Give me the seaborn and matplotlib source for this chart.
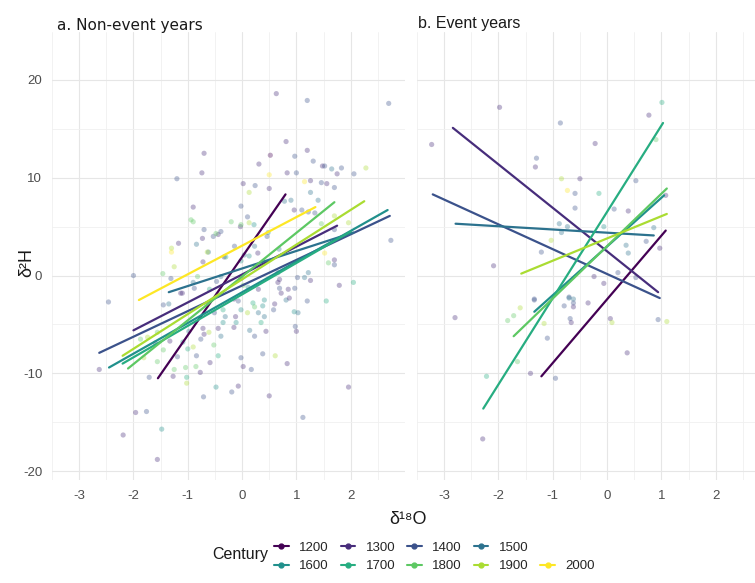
import matplotlib
matplotlib.use("Agg")
import matplotlib.pyplot as plt
from matplotlib.lines import Line2D
from matplotlib.ticker import MultipleLocator, FixedLocator
import numpy as np
import pandas as pd
import seaborn as sns

# ---------------------------------------------------------------- data
centuries = [1200, 1300, 1400, 1500, 1600, 1700, 1800, 1900, 2000]
century_colors = ["#440154", "#472D7B", "#3B528B", "#2C728E", "#21908C",
                  "#27AD81", "#5DC863", "#AADC32", "#FDE725"]

# non-event years: (d18O, d2H, century)
ne_points = [
    (0.63, 18.6, 1300), (1.2, 17.9, 1400), (2.7, 17.6, 1400), (0.81, 13.7, 1300),
    (0.52, 12.3, 1200), (-0.70, 12.5, 1300), (-0.74, 10.5, 1300), (-1.2, 9.9, 1400),
    (0.31, 11.4, 1300), (0.97, 12.2, 1400), (1.2, 12.8, 1300), (1.31, 11.7, 1400),
    (1.48, 11.2, 1300), (1.52, 11.2, 1400), (0.83, 10.5, 1300), (1.0, 10.5, 1400),
    (1.65, 10.9, 1500), (1.83, 11.0, 1400), (1.75, 10.4, 1300), (2.06, 10.4, 1400),
    (2.28, 11.0, 1900), (0.02, 9.4, 1300), (0.24, 9.2, 1400), (0.5, 8.9, 1300),
    (1.26, 9.7, 1300), (1.46, 9.5, 1400), (1.56, 9.4, 1300), (1.7, 9.0, 1400),
    (1.15, 9.6, 2000), (0.5, 10.3, 2000), (-0.9, 7.0, 1300), (-0.02, 7.1, 1400),
    (0.1, 6.0, 1400), (0.13, 8.5, 1900), (-0.03, 5.0, 1300), (-0.2, 5.5, 1800),
    (-0.44, 4.2, 1300), (-0.53, 4.0, 1400), (-0.73, 3.8, 1300), (-0.84, 3.2, 1500),
    (-1.17, 3.3, 1300), (-1.3, 2.8, 1900), (-1.3, 2.4, 2000), (-0.94, 5.7, 1800),
    (-0.9, 5.5, 1800), (-0.7, 4.7, 1400), (-0.62, 2.4, 1500), (-0.33, 1.9, 1300),
    (-1.25, 0.9, 1900), (-1.46, 0.2, 1800), (-2.0, 0.0, 1400), (-1.13, -1.8, 1300),
    (1.1, 6.7, 1400), (1.4, 7.7, 1500), (1.26, 8.5, 1500), (0.9, 7.7, 1500),
    (0.96, 6.7, 1300), (1.34, 6.4, 1400), (1.7, 6.1, 1900), (1.7, 4.7, 1400),
    (1.96, 5.4, 1900), (1.7, 1.6, 1300), (1.7, 1.1, 1400), (1.79, -1.0, 1300),
    (2.05, -0.7, 1700), (1.26, -0.5, 1300), (1.02, -0.2, 1400), (1.22, 0.3, 1500),
    (0.85, -1.4, 1300), (0.97, -1.3, 1400), (1.52, 2.3, 2000), (1.59, 1.3, 1800),
    (0.66, 0.3, 1400), (0.69, -0.4, 1300), (0.48, 4.4, 1600), (0.23, 3.0, 1500),
    (-0.14, 3.0, 1400), (0.13, 2.0, 1600), (-0.02, -0.3, 1300), (-0.39, -0.1, 1500),
    (-0.82, -0.1, 1800), (0.78, 7.6, 1500), (2.74, 3.6, 1400), (1.22, 6.5, 1400),
    (1.46, 5.3, 1800), (0.04, 2.1, 1500), (-0.02, 1.5, 1600), (-0.3, 1.9, 1700),
    (0.46, 4.0, 1400), (0.68, 2.7, 1500), (0.29, 2.3, 1300), (-0.02, 5.2, 1800),
    (0.13, 5.4, 1900), (0.22, 5.2, 1600), (-0.48, 4.3, 1800), (-0.39, 4.5, 1400),
    (-0.72, 1.4, 1300), (-0.64, 2.4, 1900), (-1.31, -0.3, 1400),
    (-2.46, -2.7, 1400), (-1.45, -3.0, 1400), (-1.35, -2.9, 1500), (-1.1, -1.8, 1300),
    (-0.88, -1.3, 1400), (-0.9, -0.7, 1500), (-2.63, -9.6, 1300), (-2.19, -16.3, 1300),
    (-1.96, -14.0, 1300), (-1.76, -13.9, 1400), (-1.48, -15.7, 1600), (-1.56, -18.8, 1300),
    (-1.71, -10.4, 1400), (-1.27, -10.3, 1300), (-1.25, -9.6, 1800), (-1.04, -9.4, 1800),
    (-1.02, -10.4, 1700), (-1.02, -11.0, 1900), (-0.85, -9.3, 1800), (-0.77, -9.9, 1300),
    (-0.71, -12.4, 1400), (-0.48, -11.4, 1600), (-0.59, -8.9, 1300), (-0.84, -8.2, 1400),
    (-0.72, -5.4, 1300), (-0.61, -5.8, 1900), (-0.44, -5.4, 1300), (-0.39, -6.2, 1500),
    (-0.44, -8.2, 1700), (-0.19, -11.9, 1400), (-0.07, -11.3, 1300), (-0.02, -8.4, 1400),
    (0.02, -9.3, 1300), (0.17, -9.6, 1400), (-0.15, -5.3, 1300), (-0.11, -4.8, 1600),
    (0.14, -5.6, 1500), (0.23, -6.2, 1400), (0.44, -5.7, 1300), (0.38, -8.0, 1400),
    (0.61, -8.2, 1900), (0.83, -9.0, 1300), (0.5, -12.3, 1300), (1.12, -14.5, 1400),
    (1.96, -11.4, 1300), (0.98, -5.2, 1400), (1.0, -5.7, 1300), (1.55, -2.6, 1700),
    (1.2, -2.6, 1400), (0.81, -2.5, 1500), (0.87, -2.3, 1300), (0.96, -3.7, 1600),
    (1.03, -3.8, 1500), (0.69, -1.3, 1400), (0.72, -1.8, 1300), (0.38, -3.1, 1600),
    (0.41, -4.2, 1500), (0.35, -4.8, 1700), (-0.02, -3.5, 1600), (0.1, -3.8, 1900),
    (0.23, -3.2, 1800), (0.3, -3.8, 1500), (-0.15, -2.4, 1300), (-0.07, -2.6, 1400),
    (-0.35, -3.5, 1700), (-0.31, -4.2, 1500), (-0.35, -4.8, 1600), (-0.51, -3.8, 1400),
    (-1.33, -6.7, 1300), (-1.19, -8.3, 1400), (-1.56, -8.8, 1800), (-1.81, -8.4, 1900),
    (-1.87, -6.5, 1800), (-1.74, -6.3, 1900), (-1.56, -5.8, 1800), (-0.98, -5.7, 1500),
    (-0.76, -6.5, 1400), (0.66, -0.7, 1300), (0.11, -1.2, 1600), (1.15, -0.2, 1500),
    (-0.6, -1.4, 1700), (-0.47, -0.6, 1400), (-0.12, -4.2, 1300), (-0.65, -3.0, 1900),
    (-1.0, -7.5, 1700), (-1.6, -6.9, 1300), (-1.45, -7.6, 1800), (-1.09, -6.8, 1600),
    (-0.9, -7.3, 1900), (-0.52, -7.1, 1800), (-0.7, -6.0, 1300), (0.58, -3.5, 1400),
    (0.6, -2.9, 1300), (0.41, -2.5, 1600), (0.2, -2.8, 1700), (0.3, -1.4, 1300),
    (0.02, -1.0, 1800),
]

# event years: (d18O, d2H, century)
ev_points = [
    (-1.98, 17.2, 1300), (-0.86, 15.6, 1400), (1.01, 17.7, 1700), (0.77, 16.4, 1300),
    (0.9, 13.9, 1800), (-3.23, 13.4, 1300), (-1.3, 12.0, 1400), (-1.32, 11.1, 1300),
    (-0.22, 13.5, 1300), (-0.84, 9.9, 1900), (-0.5, 9.9, 1300), (-0.73, 8.7, 2000),
    (-0.59, 8.4, 1400), (-0.59, 6.9, 1400), (-0.15, 8.4, 1700), (0.53, 9.7, 1400),
    (1.08, 8.2, 1300), (0.13, 6.8, 1400), (0.39, 6.6, 1300), (-0.88, 5.3, 1500),
    (-0.73, 5.0, 1500), (-0.84, 4.4, 1500), (-1.21, 2.4, 1400), (-1.03, 3.6, 1900),
    (-2.09, 1.0, 1300), (-0.06, 5.0, 1600), (0.35, 3.1, 1500), (0.39, 2.3, 1500),
    (0.72, 3.5, 1400), (0.86, 4.9, 1500), (0.97, 2.8, 1300), (0.2, 0.3, 1400),
    (-0.24, -0.1, 1300), (-0.06, -0.8, 1300), (0.53, -0.2, 1400), (-1.34, -2.4, 1400),
    (-0.7, -2.2, 1400), (-0.62, -2.4, 1500), (-2.8, -4.3, 1300), (-2.22, -10.3, 1700),
    (-2.29, -16.7, 1300), (-1.83, -4.6, 1800), (-1.72, -4.1, 1800), (-1.6, -3.3, 1900),
    (-1.34, -2.5, 1400), (-1.16, -4.9, 1900), (-1.1, -6.4, 1400), (-1.65, -8.8, 1800),
    (-1.41, -10.0, 1300), (-0.95, -10.5, 1400), (-0.79, -3.1, 1400), (-0.7, -2.3, 1500),
    (-0.62, -2.8, 1400), (-0.62, -3.2, 1300), (-0.68, -4.4, 1400), (-0.66, -4.8, 1300),
    (-0.35, -2.8, 1300), (0.06, -4.4, 1300), (0.09, -4.8, 1900), (0.37, -7.9, 1300),
    (0.94, -4.5, 1400), (1.1, -4.7, 1900),
]

# linear fits per century: century, x start, x end, y start, y end
ne_fit_century = [1200, 1300, 1400, 1500, 1600, 1700, 1800, 1900, 2000]
ne_fit_x0 = [-1.55, -2.0, -2.63, -1.35, -2.45, -2.2, -2.1, -2.2, -1.9]
ne_fit_x1 = [0.8, 1.75, 2.72, 2.05, 2.68, 2.0, 1.7, 2.25, 1.35]
ne_fit_y0 = [-10.5, -5.6, -7.9, -1.7, -9.4, -9.0, -9.5, -8.2, -2.5]
ne_fit_y1 = [8.3, 5.1, 6.1, 4.4, 6.7, 4.5, 7.5, 7.6, 7.0]

ev_fit_century = [1200, 1300, 1400, 1500, 1600, 1700, 1800, 1900]
ev_fit_x0 = [-1.21, -2.84, -3.21, -2.79, -1.34, -2.28, -1.72, -1.58]
ev_fit_x1 = [1.08, 0.94, 0.97, 0.86, 1.05, 1.03, 1.1, 1.1]
ev_fit_y0 = [-10.3, 15.1, 8.3, 5.3, -3.7, -13.6, -6.2, 0.2]
ev_fit_y1 = [4.6, -1.7, -2.3, 4.1, 8.2, 15.6, 8.9, 6.3]

x_ticks = [-3, -2, -1, 0, 1, 2]
y_ticks = [-20, -10, 0, 10, 20]

# ---------------------------------------------------------------- frames
palette = dict(zip(centuries, century_colors))


def points_frame(points):
    return pd.DataFrame(points, columns=["d18O", "d2H", "Century"])


def fit_frame(cent, x0, x1, y0, y1):
    rows = []
    for c, a, b, p, q in zip(cent, x0, x1, y0, y1):
        rows.append((c, a, p))
        rows.append((c, b, q))
    return pd.DataFrame(rows, columns=["Century", "d18O", "d2H"])


ne_df = points_frame(ne_points)
ev_df = points_frame(ev_points)
ne_fit = fit_frame(ne_fit_century, ne_fit_x0, ne_fit_x1, ne_fit_y0, ne_fit_y1)
ev_fit = fit_frame(ev_fit_century, ev_fit_x0, ev_fit_x1, ev_fit_y0, ev_fit_y1)

# ---------------------------------------------------------------- figure
sns.set_theme(style="white")
plt.rcParams["font.family"] = ["Liberation Sans", "DejaVu Sans"]
plt.rcParams["axes.unicode_minus"] = False

W, H = 755, 583
fig = plt.figure(figsize=(W / 100, H / 100), dpi=100)
fig.patch.set_facecolor("white")


def px_axes(left, top, right, bottom):
    return fig.add_axes([left / W, 1 - bottom / H, (right - left) / W, (bottom - top) / H])


ax_a = px_axes(52, 32, 405, 480)
ax_b = px_axes(417, 32, 770, 480)

for ax, pts, fit in ((ax_a, ne_df, ne_fit), (ax_b, ev_df, ev_fit)):
    sns.scatterplot(data=pts, x="d18O", y="d2H", hue="Century", palette=palette,
                    s=14, alpha=0.35, linewidth=0, legend=False, ax=ax, zorder=3)
    sns.lineplot(data=fit, x="d18O", y="d2H", hue="Century", palette=palette,
                 units="Century", estimator=None, lw=1.6, legend=False, ax=ax, zorder=4)
    ax.set_xlim(-3.5, 3.0)
    ax.set_ylim(-20.9, 24.9)
    ax.xaxis.set_major_locator(FixedLocator(x_ticks))
    ax.yaxis.set_major_locator(FixedLocator(y_ticks))
    ax.xaxis.set_minor_locator(MultipleLocator(0.5))
    ax.yaxis.set_minor_locator(MultipleLocator(5))
    ax.grid(which="major", color="#E6E6E6", lw=0.8, zorder=0)
    ax.grid(which="minor", color="#F0F0F0", lw=0.6, zorder=0)
    ax.set_axisbelow(True)
    for sp in ax.spines.values():
        sp.set_visible(False)
    ax.tick_params(which="both", length=0, labelsize=9.5, labelcolor="#4D4D4D", pad=7)
    ax.set_xlabel("")
    ax.set_ylabel("")
    ax.set_facecolor("white")

ax_b.tick_params(axis="y", labelleft=False)

# panel titles
fig.text(57 / W, 1 - 30 / H, "a. Non-event years", fontsize=11, va="baseline",
         ha="left", family=["DejaVu Sans"], color="#1A1A1A")
fig.text(418 / W, 1 - 28 / H, "b. Event years", fontsize=11.5, va="baseline",
         ha="left", color="#1A1A1A")

# axis titles
fig.text(408 / W, 1 - 520 / H, "δ¹⁸O", fontsize=13, ha="center", va="center",
         color="#1A1A1A")
fig.text(27 / W, 1 - 262 / H, "δ²H", fontsize=13, ha="center", va="center",
         rotation=90, color="#1A1A1A")

# legend: two rows, filled row-wise across five columns
handles = {c: Line2D([0], [0], color=palette[c], lw=1.5, marker="o", markersize=3.5)
           for c in centuries}
blank = Line2D([], [], linestyle="none")
order = [1200, 1600, 1300, 1700, 1400, 1800, 1500, 1900, None, 2000]
leg_handles = [handles[c] if c is not None else blank for c in order]
leg_labels = [str(c) if c is not None else "" for c in order]
fig.legend(leg_handles, leg_labels, ncol=5, loc="center left",
           bbox_to_anchor=(274 / W, 1 - 557 / H), frameon=False, fontsize=9.5,
           handlelength=1.1, handletextpad=0.8, columnspacing=0.9,
           labelspacing=0.45, borderaxespad=0, borderpad=0)
fig.text(212 / W, 1 - 555 / H, "Century", fontsize=11.5, ha="left", va="center",
         color="#1A1A1A")

fig.savefig("out.png", dpi=100, facecolor="white")
